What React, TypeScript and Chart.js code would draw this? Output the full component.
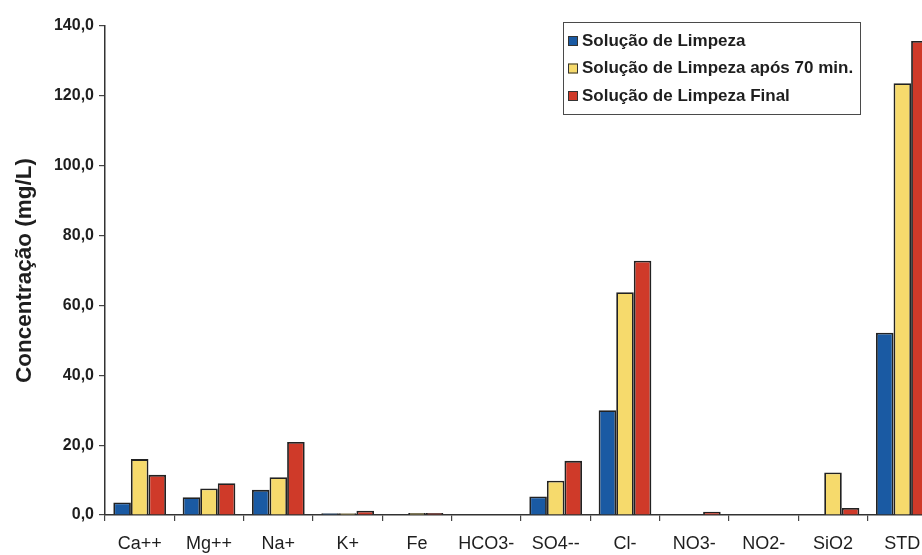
import React, { useEffect, useRef } from 'react';
import { Chart, registerables } from 'chart.js';

Chart.register(...registerables);

const categories = ['Ca++', 'Mg++', 'Na+', 'K+', 'Fe', 'HCO3-', 'SO4--', 'Cl-', 'NO3-', 'NO2-', 'SiO2', 'STD'];
const seriesNames = ['Solução de Limpeza', 'Solução de Limpeza após 70 min.', 'Solução de Limpeza Final'];
const solucaoLimpeza = [3.6, 5.1, 7.2, 0.5, 0.1, 0, 5.3, 30.0, 0, 0, 0, 52.2];
const solucaoApos70 = [16.0, 7.6, 10.8, 0.5, 0.6, 0, 9.8, 63.8, 0, 0, 12.2, 123.6];
const solucaoFinal = [11.5, 9.1, 20.9, 1.2, 0.6, 0, 15.5, 72.8, 0.9, 0, 2.0, 135.7];
const yMin = 0;
const yMax = 140;
const yStep = 20;
const yTitle = 'Concentração (mg/L)';

const FONT = '"Liberation Sans", Arial, Helvetica, sans-serif';
const COLORS = ['#1a5aa3', '#f6da6c', '#cf3a29'];

const boxLegend = {
  id: 'boxLegend',
  afterDraw(chart: any) {
    const o = chart.options.plugins.boxLegend;
    const ctx = chart.ctx;
    ctx.save();
    ctx.fillStyle = '#ffffff';
    ctx.fillRect(o.x, o.y, o.w, o.h);
    ctx.strokeStyle = '#4a4a4a';
    ctx.lineWidth = 1;
    ctx.strokeRect(o.x + 0.5, o.y + 0.5, o.w, o.h);
    ctx.font = `bold ${o.fontSize}px ${FONT}`;
    ctx.textBaseline = 'middle';
    ctx.textAlign = 'left';
    chart.data.datasets.forEach((ds: any, i: number) => {
      const cy = o.y + o.firstRow + i * o.rowGap;
      ctx.fillStyle = ds.backgroundColor;
      ctx.fillRect(o.x + o.boxLeft, cy - o.boxSize / 2, o.boxSize, o.boxSize);
      ctx.strokeStyle = '#333';
      ctx.strokeRect(o.x + o.boxLeft + 0.5, cy - o.boxSize / 2 + 0.5, o.boxSize - 1, o.boxSize - 1);
      ctx.fillStyle = '#1e1e1e';
      ctx.fillText(ds.label, o.x + o.textLeft, cy);
    });
    ctx.restore();
  },
};

export default function App() {
  const ref = useRef<HTMLCanvasElement | null>(null);

  useEffect(() => {
    if (!ref.current) return;
    const data = [solucaoLimpeza, solucaoApos70, solucaoFinal];
    const chart = new Chart(ref.current, {
      type: 'bar',
      data: {
        labels: categories,
        datasets: seriesNames.map((name, i) => ({
          label: name,
          data: data[i],
          backgroundColor: COLORS[i],
          borderColor: '#222',
          borderWidth: 1.8,
          borderSkipped: 'bottom',
          barPercentage: 1.0,
          categoryPercentage: 0.76,
        })),
      },
      options: {
        animation: false,
        responsive: true,
        maintainAspectRatio: false,
        layout: { padding: { top: 26, right: 8, bottom: 0, left: 0 } },
        plugins: {
          legend: { display: false },
          tooltip: { enabled: false },
          title: { display: false },
          boxLegend: {
            x: 563, y: 22, w: 297, h: 92,
            firstRow: 19, rowGap: 27.5,
            boxLeft: 5, boxSize: 10, textLeft: 19, fontSize: 17,
          },
        } as any,
        scales: {
          x: {
            offset: true,
            grid: {
              display: true,
              offset: true,
              drawOnChartArea: false,
              drawTicks: true,
              tickLength: 6,
              color: '#444',
              lineWidth: 1.2,
            },
            border: { display: true, color: '#333', width: 1.5 },
            ticks: {
              font: { family: FONT, size: 18, weight: 'normal' },
              color: '#1e1e1e',
              padding: 12,
              maxRotation: 0,
              autoSkip: false,
            },
            afterFit: (scale: any) => { scale.height = 40; },
          },
          y: {
            min: yMin,
            max: yMax,
            ticks: {
              stepSize: yStep,
              font: { family: FONT, size: 16, weight: 'bold' },
              color: '#1e1e1e',
              padding: 5,
              callback: (v: any) => Number(v).toFixed(1).replace('.', ','),
            },
            grid: {
              display: true,
              drawOnChartArea: false,
              drawTicks: true,
              tickLength: 6,
              color: '#444',
              lineWidth: 1.2,
            },
            border: { display: true, color: '#333', width: 1.5 },
            title: {
              display: true,
              text: yTitle,
              font: { family: FONT, size: 22.5, weight: 'bold' },
              color: '#1e1e1e',
              padding: { top: 11, bottom: 0 },
            },
            afterFit: (scale: any) => { scale.width = 105; },
          },
        },
      },
      plugins: [boxLegend],
    } as any);
    return () => chart.destroy();
  }, []);

  return (
    <div style={{ position: 'fixed', left: 0, top: 0, width: 922, height: 555, overflow: 'hidden', background: '#fff' }}>
      <div style={{ position: 'relative', width: 945, height: 555 }}>
        <canvas ref={ref} />
      </div>
    </div>
  );
}
